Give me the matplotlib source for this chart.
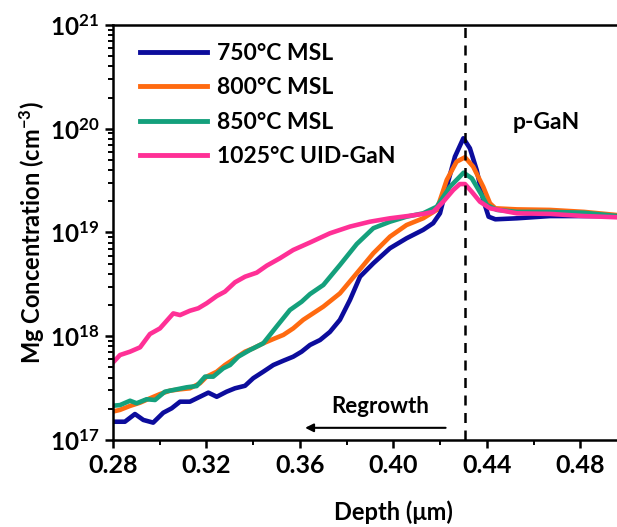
import matplotlib
matplotlib.use('Agg')
import matplotlib.pyplot as plt
from matplotlib.ticker import FixedLocator, LogLocator, NullFormatter

plt.rcParams['font.family'] = ['Lato', 'DejaVu Sans']
plt.rcParams['font.weight'] = 'bold'
plt.rcParams['mathtext.fontset'] = 'custom'
plt.rcParams['mathtext.rm'] = 'Lato:bold'
plt.rcParams['mathtext.it'] = 'Lato:bold'
plt.rcParams['mathtext.bf'] = 'Lato:bold'

# ---- data (depth in um, Mg in cm^-3) ----
depth_750 = [0.2800, 0.2816, 0.2851, 0.2894, 0.2930, 0.2972, 0.3015, 0.3051, 0.3087, 0.3129,
             0.3172, 0.3208, 0.3244, 0.3286, 0.3322, 0.3365, 0.3400, 0.3443, 0.3486, 0.3529,
             0.3571, 0.3607, 0.3643, 0.3686, 0.3728, 0.3771, 0.3814, 0.3857, 0.3914, 0.3985,
             0.4056, 0.4127, 0.4170, 0.4199, 0.4228, 0.4263, 0.4299, 0.4327, 0.4356, 0.4384,
             0.4407, 0.4436, 0.4528, 0.4670, 0.4815, 0.4960]
mg_750 = [1.50e17, 1.50e17, 1.50e17, 1.78e17, 1.56e17, 1.47e17, 1.83e17, 2.02e17, 2.34e17, 2.34e17,
          2.61e17, 2.86e17, 2.61e17, 2.92e17, 3.15e17, 3.33e17, 3.94e17, 4.55e17, 5.28e17, 5.81e17,
          6.35e17, 7.10e17, 8.24e17, 9.20e17, 1.10e18, 1.44e18, 2.24e18, 3.75e18, 5.05e18, 7.05e18,
          8.79e18, 1.06e19, 1.23e19, 1.53e19, 2.76e19, 5.38e19, 8.09e19, 6.48e19, 4.00e19, 2.06e19,
          1.42e19, 1.34e19, 1.37e19, 1.44e19, 1.44e19, 1.44e19]

depth_800 = [0.2800, 0.2830, 0.2873, 0.2916, 0.2958, 0.3001, 0.3044, 0.3087, 0.3129, 0.3172,
             0.3201, 0.3244, 0.3279, 0.3322, 0.3365, 0.3400, 0.3443, 0.3486, 0.3529, 0.3571,
             0.3614, 0.3700, 0.3771, 0.3843, 0.3914, 0.3985, 0.4056, 0.4127, 0.4185, 0.4228,
             0.4270, 0.4306, 0.4341, 0.4384, 0.4413, 0.4436, 0.4528, 0.4670, 0.4815, 0.4960]
mg_800 = [1.88e17, 1.95e17, 2.13e17, 2.29e17, 2.52e17, 2.77e17, 2.99e17, 3.08e17, 3.15e17, 3.52e17,
          4.08e17, 4.55e17, 5.28e17, 6.12e17, 7.10e17, 7.65e17, 8.55e17, 9.40e17, 1.03e18, 1.19e18,
          1.44e18, 1.93e18, 2.59e18, 4.05e18, 6.31e18, 9.12e18, 1.18e19, 1.37e19, 1.65e19, 3.21e19,
          4.81e19, 5.31e19, 4.31e19, 2.76e19, 1.91e19, 1.71e19, 1.67e19, 1.65e19, 1.58e19, 1.47e19]

depth_850 = [0.2800, 0.2830, 0.2873, 0.2901, 0.2944, 0.2980, 0.3022, 0.3073, 0.3115, 0.3158,
             0.3194, 0.3229, 0.3272, 0.3301, 0.3336, 0.3386, 0.3443, 0.3500, 0.3557, 0.3607,
             0.3643, 0.3700, 0.3771, 0.3843, 0.3914, 0.3985, 0.4056, 0.4127, 0.4185, 0.4242,
             0.4300, 0.4335, 0.4377, 0.4400, 0.4443, 0.4528, 0.4670, 0.4815, 0.4960]
mg_850 = [2.14e17, 2.17e17, 2.39e17, 2.26e17, 2.47e17, 2.43e17, 2.92e17, 3.08e17, 3.22e17, 3.31e17,
          4.08e17, 4.08e17, 4.91e17, 5.28e17, 6.35e17, 7.37e17, 8.55e17, 1.24e18, 1.79e18, 2.15e18,
          2.55e18, 3.12e18, 4.86e18, 7.74e18, 1.10e19, 1.27e19, 1.42e19, 1.53e19, 1.77e19, 2.76e19,
          3.77e19, 3.33e19, 2.30e19, 1.84e19, 1.65e19, 1.58e19, 1.58e19, 1.55e19, 1.44e19]

depth_1025 = [0.2800, 0.2830, 0.2873, 0.2916, 0.2958, 0.3001, 0.3058, 0.3087, 0.3129, 0.3165,
              0.3201, 0.3244, 0.3279, 0.3322, 0.3365, 0.3415, 0.3458, 0.3514, 0.3571, 0.3643,
              0.3728, 0.3814, 0.3899, 0.3985, 0.4071, 0.4127, 0.4170, 0.4213, 0.4256, 0.4284,
              0.4306, 0.4335, 0.4370, 0.4413, 0.4528, 0.4670, 0.4815, 0.4960]
mg_1025 = [5.58e17, 6.59e17, 7.10e17, 7.82e17, 1.05e18, 1.19e18, 1.66e18, 1.60e18, 1.76e18, 1.86e18,
           2.08e18, 2.44e18, 2.69e18, 3.31e18, 3.75e18, 4.10e18, 4.79e18, 5.64e18, 6.78e18, 8.01e18,
           9.82e18, 1.14e19, 1.27e19, 1.37e19, 1.45e19, 1.51e19, 1.58e19, 1.98e19, 2.57e19, 2.93e19,
           2.93e19, 2.47e19, 1.98e19, 1.71e19, 1.53e19, 1.51e19, 1.44e19, 1.40e19]

labels = ['750°C MSL', '800°C MSL', '850°C MSL', '1025°C UID-GaN']
colors = ['#0c0c9c', '#ff6a10', '#14a07c', '#ff3096']
interface = 0.4306
x_ticks = [0.28, 0.32, 0.36, 0.40, 0.44, 0.48]

fig = plt.figure(figsize=(6.17, 5.27), dpi=100)
# axes runs past the right edge, the reference is cropped there
ax = fig.add_axes([0.1831, 0.1651, 0.9092, 0.7875])

series = [(depth_750, mg_750), (depth_800, mg_800), (depth_850, mg_850), (depth_1025, mg_1025)]
for (d, m), lab, c in zip(series, labels, colors):
    ax.plot(d, m, color=c, lw=3.3, label=lab, solid_joinstyle='round')

ax.axvline(interface, color='black', lw=1.8, ls=(0, (4, 3)))

ax.set_yscale('log')
ax.set_xlim(0.28, 0.52)
ax.set_ylim(1e17, 1e21)
ax.xaxis.set_major_locator(FixedLocator(x_ticks))
ax.xaxis.set_minor_locator(FixedLocator([0.30, 0.34, 0.38, 0.42, 0.46, 0.50]))
ax.set_xticklabels([f'{t:.2f}' for t in x_ticks])
ax.yaxis.set_major_locator(FixedLocator([1e17, 1e18, 1e19, 1e20, 1e21]))
ax.set_yticklabels([r'$10^{17}$', r'$10^{18}$', r'$10^{19}$', r'$10^{20}$', r'$10^{21}$'])
ax.yaxis.set_minor_locator(LogLocator(base=10, subs=range(2, 10), numticks=20))
ax.yaxis.set_minor_formatter(NullFormatter())

ax.tick_params(which='major', direction='out', length=6, width=1.8, labelsize=18, pad=4)
ax.tick_params(axis='y', which='major', labelsize=17.5)
ax.tick_params(which='minor', direction='out', length=3.5, width=1.4)
for s in ['left', 'bottom', 'top']:
    ax.spines[s].set_linewidth(1.8)
ax.spines['right'].set_visible(False)

ax.set_ylabel('Mg Concentration (cm$^{-3}$)', fontsize=17, fontweight='bold', labelpad=2)
ax.set_xlabel('Depth (μm)', fontsize=17, fontweight='bold', labelpad=17)

ax.text(0.4655, 1.16e20, 'p-GaN', fontsize=16.5, fontweight='bold', ha='center', va='center')
ax.text(0.3942, 2.08e17, 'Regrowth', fontsize=16, fontweight='bold', ha='center', va='center')
ax.annotate('', xy=(0.3610, 1.31e17), xytext=(0.4235, 1.31e17),
            arrowprops=dict(arrowstyle='-|>', lw=1.5, color='black', mutation_scale=12))

leg = ax.legend(loc='upper left', bbox_to_anchor=(0.02, 0.995), frameon=False, fontsize=16.5,
                handlelength=2.9, handletextpad=0.45, labelspacing=0.58, borderaxespad=0.3)
for h in leg.get_lines():
    h.set_linewidth(3.5)

fig.savefig('out.png', dpi=100, facecolor='white')
